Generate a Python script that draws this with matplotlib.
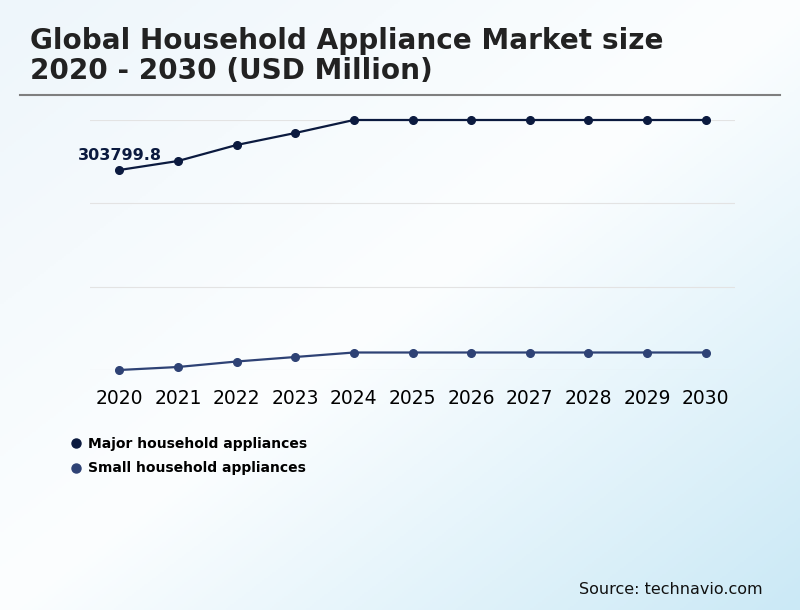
import matplotlib as mpl
import matplotlib.pyplot as plt
import numpy as np
from matplotlib.colors import LinearSegmentedColormap
from matplotlib.lines import Line2D

years = ['2020', '2021', '2022', '2023', '2024', '2025', '2026', '2027', '2028', '2029', '2030']
major = [303799.8, 314770, 334280, 348900, 364750, 364750, 364750, 364750, 364750, 364750, 364750]
small = [60000, 63660, 70360, 75850, 81330, 81330, 81330, 81330, 81330, 81330, 81330]
series_names = ['Major household appliances', 'Small household appliances']
colors = ['#0b1a3f', '#2e4275']

mpl.rcParams['font.family'] = 'DejaVu Sans'

fig = plt.figure(figsize=(8, 6.1), dpi=100)

# background gradient
bg = fig.add_axes([0, 0, 1, 1], zorder=-10)
xx, yy = np.meshgrid(np.linspace(0, 1, 400), np.linspace(0, 1, 305))
t = (xx + yy) / 2
cmap = LinearSegmentedColormap.from_list('bg', [(0, '#eef6fb'), (0.5, '#fcfeff'), (1, '#cbe9f6')])
bg.imshow(t, cmap=cmap, aspect='auto', extent=[0, 1, 1, 0])
bg.set_xlim(0, 1)
bg.set_ylim(1, 0)
bg.axis('off')

fig.text(30 / 800, 1 - 56 / 610, 'Global Household Appliance Market size\n2020 - 2030 (USD Million)',
         fontsize=20.05, fontweight='bold', color='#222222', va='center', ha='left', linespacing=1.08)
fig.add_artist(Line2D([20 / 800, 780 / 800], [1 - 95 / 610, 1 - 95 / 610], color='#7f7f7f', lw=1.5))

ax = fig.add_axes([90 / 800, 1 - 370 / 610, 645 / 800, 250 / 610])
ax.patch.set_alpha(0)
x = np.arange(len(years))
ax.plot(x, major, '-o', color=colors[0], lw=1.6, ms=5.5, label=series_names[0], clip_on=False)
ax.plot(x, small, '-o', color=colors[1], lw=1.6, ms=5.5, label=series_names[1], clip_on=False)
ax.set_xlim(-0.5, len(years) - 0.5)
ax.set_ylim(small[0], max(major))
ax.set_yticks(np.linspace(small[0], max(major), 4))
ax.set_yticklabels([])
ax.grid(axis='y', color='#e3e3e3', lw=0.8)
ax.set_xticks(x)
ax.set_xticklabels(years, fontsize=13.5)
ax.tick_params(axis='x', length=0, pad=14)
ax.tick_params(axis='y', length=0)
for s in ax.spines.values():
    s.set_visible(False)

ax.annotate(f'{major[0]}', (x[0], major[0]), xytext=(-29.5, 5), textcoords='offset points',
            fontsize=11.5, fontweight='bold', color=colors[0], ha='left', va='bottom')

handles = [Line2D([], [], marker='o', ls='none', color=c, ms=6.5) for c in colors]
fig.legend(handles, series_names, loc='upper left', bbox_to_anchor=(68 / 800, 1 - 437 / 610),
           frameon=False, prop={'weight': 'bold', 'size': 10}, handletextpad=0.25,
           labelspacing=0.75, handlelength=1.2, borderaxespad=0, borderpad=0)

fig.text(763 / 800, 1 - 589 / 610, 'Source: technavio.com', fontsize=11.5, ha='right', va='center', color='#111111')

plt.savefig('out.png', dpi=100)
